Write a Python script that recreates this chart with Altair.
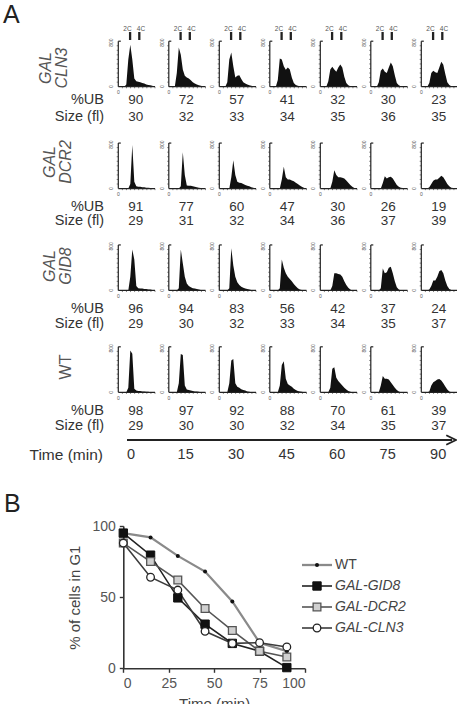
import altair as alt
import pandas as pd

# ---------------- values ----------------
TIMES = [0, 15, 30, 45, 60, 75, 90]
ROW_KEYS = ["CLN3", "DCR2", "GID8", "WT"]
ROW_LABELS = ["GAL\nCLN3", "GAL\nDCR2", "GAL\nGID8", "WT"]
ROW_ITALIC = [True, True, True, False]

UB_CLN3 = [90, 72, 57, 41, 32, 30, 23]
UB_DCR2 = [91, 77, 60, 47, 30, 26, 19]
UB_GID8 = [96, 94, 83, 56, 42, 37, 24]
UB_WT = [98, 97, 92, 88, 70, 61, 39]

SIZE_CLN3 = [30, 32, 33, 34, 35, 36, 35]
SIZE_DCR2 = [29, 31, 32, 34, 36, 37, 39]
SIZE_GID8 = [29, 30, 32, 33, 34, 35, 37]
SIZE_WT = [29, 30, 30, 32, 34, 35, 37]

# DNA-content histograms: relative counts in 19 equal bins along the DNA axis
HIST_CLN3 = [
    [0, 0, 0, 0, 0.05, 0.6, 0.92, 0.6, 0.18, 0.12, 0.11, 0.1, 0.08, 0.07, 0.05, 0.04, 0.03, 0.02, 0],
    [0, 0, 0, 0, 0.3, 0.86, 0.7, 0.38, 0.24, 0.2, 0.18, 0.14, 0.1, 0.07, 0.05, 0.03, 0.02, 0.01, 0],
    [0, 0, 0, 0, 0.1, 0.6, 0.75, 0.45, 0.2, 0.24, 0.25, 0.17, 0.1, 0.07, 0.05, 0.03, 0.02, 0.01, 0],
    [0, 0, 0, 0, 0.15, 0.62, 0.6, 0.45, 0.37, 0.42, 0.38, 0.2, 0.08, 0.04, 0.02, 0.01, 0, 0, 0],
    [0, 0, 0, 0, 0.12, 0.38, 0.44, 0.38, 0.33, 0.42, 0.49, 0.42, 0.22, 0.08, 0.03, 0.01, 0, 0, 0],
    [0, 0, 0, 0, 0.1, 0.35, 0.4, 0.33, 0.3, 0.42, 0.53, 0.45, 0.25, 0.08, 0.03, 0.01, 0, 0, 0],
    [0, 0, 0, 0, 0.08, 0.3, 0.35, 0.32, 0.3, 0.42, 0.55, 0.48, 0.28, 0.1, 0.04, 0.01, 0, 0, 0],
]
HIST_DCR2 = [
    [0, 0, 0, 0, 0, 0, 0.1, 0.96, 0.15, 0.05, 0.04, 0.04, 0.03, 0.03, 0.02, 0.02, 0.01, 0.01, 0],
    [0, 0, 0, 0, 0, 0, 0.05, 0.8, 0.3, 0.07, 0.06, 0.06, 0.05, 0.04, 0.03, 0.02, 0.01, 0.01, 0],
    [0, 0, 0, 0, 0, 0, 0.25, 0.62, 0.3, 0.15, 0.13, 0.12, 0.1, 0.08, 0.06, 0.05, 0.03, 0.02, 0],
    [0, 0, 0, 0, 0, 0, 0.2, 0.48, 0.25, 0.2, 0.2, 0.18, 0.16, 0.13, 0.1, 0.07, 0.04, 0.02, 0],
    [0, 0, 0, 0, 0, 0, 0.15, 0.4, 0.3, 0.25, 0.25, 0.24, 0.22, 0.18, 0.13, 0.08, 0.04, 0.01, 0],
    [0, 0, 0, 0, 0, 0, 0.12, 0.27, 0.22, 0.25, 0.26, 0.22, 0.15, 0.08, 0.04, 0.02, 0.01, 0, 0],
    [0, 0, 0, 0, 0.03, 0.1, 0.17, 0.2, 0.2, 0.24, 0.28, 0.25, 0.18, 0.1, 0.05, 0.02, 0.01, 0, 0],
]
HIST_GID8 = [
    [0, 0, 0, 0, 0, 0, 0.3, 0.9, 0.68, 0.1, 0.05, 0.04, 0.04, 0.03, 0.03, 0.02, 0.02, 0.01, 0],
    [0, 0, 0, 0, 0, 0.05, 0.9, 0.6, 0.3, 0.15, 0.1, 0.07, 0.05, 0.04, 0.03, 0.02, 0.01, 0.01, 0],
    [0, 0, 0, 0, 0, 0.05, 0.93, 0.55, 0.3, 0.18, 0.12, 0.08, 0.06, 0.04, 0.03, 0.02, 0.01, 0, 0],
    [0, 0, 0, 0, 0, 0.05, 0.68, 0.5, 0.38, 0.3, 0.25, 0.2, 0.14, 0.09, 0.05, 0.02, 0.01, 0, 0],
    [0, 0, 0, 0, 0, 0, 0.1, 0.38, 0.38, 0.36, 0.35, 0.3, 0.2, 0.12, 0.06, 0.02, 0, 0, 0],
    [0, 0, 0, 0, 0, 0.05, 0.48, 0.38, 0.4, 0.5, 0.52, 0.38, 0.2, 0.07, 0.02, 0, 0, 0, 0],
    [0, 0, 0, 0, 0.02, 0.1, 0.22, 0.22, 0.3, 0.42, 0.45, 0.38, 0.22, 0.1, 0.03, 0.01, 0, 0, 0],
]
HIST_WT = [
    [0, 0, 0, 0, 0, 0.1, 0.92, 0.85, 0.08, 0.04, 0.03, 0.03, 0.02, 0.02, 0.01, 0.01, 0, 0, 0],
    [0, 0, 0, 0, 0, 0.2, 0.84, 0.82, 0.15, 0.06, 0.05, 0.04, 0.03, 0.02, 0.02, 0.01, 0, 0, 0],
    [0, 0, 0, 0, 0, 0.2, 0.7, 0.73, 0.2, 0.12, 0.1, 0.07, 0.05, 0.04, 0.02, 0.01, 0, 0, 0],
    [0, 0, 0, 0, 0, 0.15, 0.6, 0.68, 0.3, 0.18, 0.15, 0.12, 0.08, 0.05, 0.03, 0.02, 0.01, 0, 0],
    [0, 0, 0, 0, 0, 0.1, 0.52, 0.55, 0.32, 0.25, 0.2, 0.15, 0.1, 0.06, 0.03, 0.01, 0, 0, 0],
    [0, 0, 0, 0, 0, 0.15, 0.36, 0.3, 0.3, 0.28, 0.22, 0.16, 0.1, 0.05, 0.02, 0, 0, 0, 0],
    [0, 0, 0, 0, 0.02, 0.15, 0.22, 0.25, 0.28, 0.29, 0.26, 0.2, 0.13, 0.06, 0.02, 0, 0, 0, 0],
]

# panel B: % of cells in G1
G1_TIME = [0, 15, 30, 45, 60, 75, 90]
G1_WT = [95, 92, 79, 68, 47, 18, 12]
G1_GID8 = [95, 79.5, 49.5, 31, 17.5, 12, 0.5]
G1_DCR2 = [88, 75, 62, 42, 26.5, 12, 8]
G1_CLN3 = [88, 64, 55, 26, 17.5, 18, 15]
SERIES = ["WT", "GAL-GID8", "GAL-DCR2", "GAL-CLN3"]

UB = {"CLN3": UB_CLN3, "DCR2": UB_DCR2, "GID8": UB_GID8, "WT": UB_WT}
SIZE = {"CLN3": SIZE_CLN3, "DCR2": SIZE_DCR2, "GID8": SIZE_GID8, "WT": SIZE_WT}
HIST = {"CLN3": HIST_CLN3, "DCR2": HIST_DCR2, "GID8": HIST_GID8, "WT": HIST_WT}
G1 = {"WT": G1_WT, "GAL-GID8": G1_GID8, "GAL-DCR2": G1_DCR2, "GAL-CLN3": G1_CLN3}

# ---------------- layout (pixels) ----------------
W, H = 457, 704
FONT = "Liberation Sans"
COL0, COLP = 118.3, 50.5          # first histogram y-axis, column pitch
ROW0, ROWP = 86.7, 101.87         # first histogram baseline, row pitch
HIST_H = 45.5                     # histogram axis height
AX_LEN = 36.7                     # histogram x-axis length
BIN_W = 2.0
UB_OFF = [13.3, 18.3, 18.3, 18.4]
SIZE_OFF = [30.6, 32.9, 33.5, 33.6]
TIME_Y, ARROW_Y = 455, 440
XB0, XB1, YB0, YB1 = 123.3, 305.0, 668.3, 526.0


def ux(px):
    return (px - COL0) / COLP


def uy(py):
    return (py - ROW0) / ROWP


XA = alt.Scale(domain=[0, 6], range=[COL0, COL0 + 6 * COLP])
YA = alt.Scale(domain=[0, 3], range=[ROW0, ROW0 + 3 * ROWP])


def enc_a(ch, x2=False, y2=False, text=False):
    e = dict(x=alt.X("x:Q", scale=XA, axis=None), y=alt.Y("y:Q", scale=YA, axis=None))
    if x2:
        e["x2"] = alt.X2("x2:Q")
    if y2:
        e["y2"] = alt.Y2("y2:Q")
    if text:
        e["text"] = alt.Text("t:N")
    return ch.encode(**e)


# ---- panel A data tables ----
hist_rows, axis_rows, tick_rows, small_lab, num_rows = [], [], [], [], []
for r, key in enumerate(ROW_KEYS):
    for c in range(len(TIMES)):
        pid = f"{r}-{c}"
        for k, h in enumerate(HIST[key][c]):
            hist_rows.append(dict(pid=pid, x=c + k * BIN_W / COLP, y=r - h * HIST_H / ROWP, y2=r))
        top = r - HIST_H / ROWP
        axis_rows.append(dict(x=c, x2=c, y=top, y2=r))
        axis_rows.append(dict(x=c, x2=c + AX_LEN / COLP, y=r, y2=r))
        axis_rows.append(dict(x=c, x2=c + 2.5 / COLP, y=top, y2=top))
        for j in range(1, 10):
            yy = r - j / 10 * HIST_H / ROWP
            tick_rows.append(dict(x=c - 1.6 / COLP, x2=c, y=yy, y2=yy))
        for j in range(1, 10):
            xx = c + j * AX_LEN / 9 / COLP
            tick_rows.append(dict(x=xx, x2=xx, y=r, y2=r + 1.6 / ROWP))
        small_lab.append(dict(x=c - 7 / COLP, y=top + 1.5 / ROWP, t="800", a=270))
        small_lab.append(dict(x=c - 7 / COLP, y=r, t="0", a=270))
        small_lab.append(dict(x=c, y=r + 5.5 / ROWP, t="0", a=0))
        num_rows.append(dict(x=c + 17.5 / COLP, y=r + UB_OFF[r] / ROWP, t=str(UB[key][c])))
        num_rows.append(dict(x=c + 17.5 / COLP, y=r + SIZE_OFF[r] / ROWP, t=str(SIZE[key][c])))

hist = enc_a(alt.Chart(pd.DataFrame(hist_rows)).mark_area(color="#111", interpolate="linear"), y2=True)
hist = hist.encode(detail="pid:N")
axes_a = enc_a(alt.Chart(pd.DataFrame(axis_rows)).mark_rule(color="#222", strokeWidth=1.2), x2=True, y2=True)
ticks_a = enc_a(alt.Chart(pd.DataFrame(tick_rows)).mark_rule(color="#666", strokeWidth=0.8), x2=True, y2=True)
small_a = enc_a(alt.Chart(pd.DataFrame(small_lab)).mark_text(fontSize=5, color="#555", align="center",
                                                              baseline="middle"), text=True).encode(angle=alt.Angle("a:Q", scale=None))
nums_a = enc_a(alt.Chart(pd.DataFrame(num_rows)).mark_text(fontSize=13.5, color="#333", align="center",
                                                           baseline="middle"), text=True)

# 2C / 4C markers over the first row
mk_text, mk_bar = [], []
for c in range(len(TIMES)):
    mk_text.append(dict(x=c + 9.2 / COLP, y=uy(28.7), t="2C"))
    mk_text.append(dict(x=c + 22.7 / COLP, y=uy(28.7), t="4C"))
    for off in (11.8, 21.0):
        mk_bar.append(dict(x=c + off / COLP, x2=c + off / COLP, y=uy(32), y2=uy(40)))
mk_t = enc_a(alt.Chart(pd.DataFrame(mk_text)).mark_text(fontSize=6.5, color="#555", align="center",
                                                        baseline="middle"), text=True)
mk_b = enc_a(alt.Chart(pd.DataFrame(mk_bar)).mark_rule(color="#222", strokeWidth=2.3), x2=True, y2=True)

# left labels
lab_rows = []
for r in range(4):
    lab_rows.append(dict(x=ux(104), y=r + UB_OFF[r] / ROWP, t="%UB"))
    lab_rows.append(dict(x=ux(104), y=r + SIZE_OFF[r] / ROWP, t="Size (fl)"))
labs = enc_a(alt.Chart(pd.DataFrame(lab_rows)).mark_text(fontSize=14.5, color="#333", align="right",
                                                         baseline="middle"), text=True)
tlab = enc_a(alt.Chart(pd.DataFrame([dict(x=ux(103), y=uy(TIME_Y), t="Time (min)")])).mark_text(
    fontSize=15.5, color="#333", align="right", baseline="middle"), text=True)

time_rows = [dict(x=c + 8.8 / COLP, y=uy(TIME_Y), t=str(t)) for c, t in enumerate(TIMES)]
time_t = enc_a(alt.Chart(pd.DataFrame(time_rows)).mark_text(fontSize=14.5, color="#333", align="left",
                                                            baseline="middle"), text=True)

ROW_LAB_X = [46, 50, 50, 66]
ROW_LAB_Y = [68, 162, 266, 367]
rl_layers = []
for r in range(4):
    df = pd.DataFrame([dict(x=ux(ROW_LAB_X[r]), y=uy(ROW_LAB_Y[r]), t=ROW_LABELS[r])])
    rl_layers.append(enc_a(alt.Chart(df).mark_text(fontSize=16, color="#555", align="center", baseline="middle",
                                                   angle=270, lineBreak="\n", lineHeight=16,
                                                   fontStyle="italic" if ROW_ITALIC[r] else "normal"), text=True))

arrow_df = pd.DataFrame([dict(x=ux(127), x2=ux(452), y=uy(ARROW_Y), y2=uy(ARROW_Y))])
arrow = enc_a(alt.Chart(arrow_df).mark_rule(color="#222", strokeWidth=1.8), x2=True, y2=True)
head = enc_a(alt.Chart(pd.DataFrame([dict(x=ux(451), y=uy(ARROW_Y))])).mark_point(
    shape="M-1,-1L1,0L-1,1", size=90, filled=False, stroke="#222", strokeWidth=1.8, opacity=1))

panel_letters = enc_a(alt.Chart(pd.DataFrame([dict(x=ux(3), y=uy(23), t="A"), dict(x=ux(4), y=uy(512), t="B")]))
                      .mark_text(fontSize=25, color="#222", align="left", baseline="alphabetic"), text=True)

layer_a = alt.layer(hist, ticks_a, axes_a, small_a, nums_a, mk_t, mk_b, labs, tlab, time_t, *rl_layers,
                    arrow, head, panel_letters)

# ---------------- panel B ----------------
XB = alt.Scale(domain=[0, 100], range=[XB0, XB1])
YB = alt.Scale(domain=[0, 100], range=[YB0, YB1])
AX_STYLE = dict(grid=False, domainColor="#333", domainWidth=1.6, tickColor="#333", tickWidth=1.4,
                tickSize=4, labelColor="#555", labelFontSize=14, labelFont=FONT, titleFont=FONT,
                titleFontSize=15, titleColor="#444", titleFontWeight="normal")
XAX = alt.Axis(orient="bottom", offset=-(H - YB0), values=[0, 25, 50, 75, 100], title="Time (min)",
               labelPadding=4, titlePadding=6, **AX_STYLE)
YAX = alt.Axis(orient="left", offset=-XB0, values=[0, 50, 100], title="% of cells in G1",
               labelPadding=4, titlePadding=9, **AX_STYLE)


def enc_b(ch, x2=False, text=False):
    e = dict(x=alt.X("bx:Q", scale=XB, axis=XAX), y=alt.Y("by:Q", scale=YB, axis=YAX))
    if x2:
        e["x2"] = alt.X2("bx2:Q")
    if text:
        e["text"] = alt.Text("t:N")
    return ch.encode(**e)


STYLE = {
    "WT": dict(line="#8a8a8a", lw=2.3, shape="circle", size=16, fill="#111", stroke="#111", sw=0),
    "GAL-GID8": dict(line="#222", lw=1.6, shape="square", size=70, fill="#111", stroke="#111", sw=1),
    "GAL-DCR2": dict(line="#555", lw=1.6, shape="square", size=60, fill="#d0d0d0", stroke="#555", sw=1.3),
    "GAL-CLN3": dict(line="#3c3c3c", lw=1.6, shape="circle", size=58, fill="#ffffff", stroke="#222", sw=1.3),
}


def bxu(px):
    return (px - XB0) / (XB1 - XB0) * 100


def byu(py):
    return (YB0 - py) / (YB0 - YB1) * 100


lines_b, pts_b, leg_b = [], [], []
for i, s in enumerate(SERIES):
    st = STYLE[s]
    df = pd.DataFrame({"bx": G1_TIME, "by": G1[s]})
    lines_b.append(enc_b(alt.Chart(df).mark_line(color=st["line"], strokeWidth=st["lw"])))
    pts_b.append(enc_b(alt.Chart(df).mark_point(shape=st["shape"], size=st["size"], filled=True, fill=st["fill"],
                                                stroke=st["stroke"], strokeWidth=st["sw"], opacity=1)))
    ly = byu(565 + i * 21)
    leg_line = pd.DataFrame([dict(bx=bxu(302), bx2=bxu(332), by=ly)])
    leg_b.append(enc_b(alt.Chart(leg_line).mark_rule(color=st["line"], strokeWidth=st["lw"]), x2=True))
    leg_pt = pd.DataFrame([dict(bx=bxu(317), by=ly)])
    leg_b.append(enc_b(alt.Chart(leg_pt).mark_point(shape=st["shape"], size=st["size"], filled=True, fill=st["fill"],
                                                    stroke=st["stroke"], strokeWidth=st["sw"], opacity=1)))
    leg_t = pd.DataFrame([dict(bx=bxu(335), by=ly, t=s)])
    leg_b.append(enc_b(alt.Chart(leg_t).mark_text(fontSize=14, color="#444", align="left", baseline="middle",
                                                  fontStyle="normal" if s == "WT" else "italic"), text=True))

layer_b = alt.layer(*lines_b, *pts_b, *leg_b)

chart = (
    alt.layer(layer_a, layer_b)
    .resolve_scale(x="independent", y="independent")
    .properties(width=W, height=H, autosize=alt.AutoSizeParams(type="none"), padding=0, background="white")
    .configure(font=FONT)
    .configure_view(stroke=None)
)

chart.save("out.html", embed_options={"renderer": "svg", "actions": False})
